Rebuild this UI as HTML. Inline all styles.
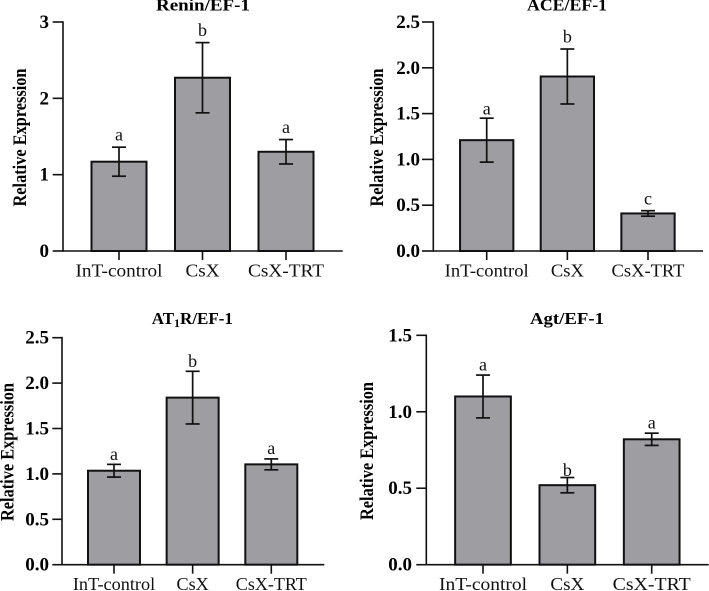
<!DOCTYPE html>
<html lang="en">
<head>
<meta charset="utf-8">
<title>Relative expression bar charts</title>
<style>
html,body{margin:0;padding:0;background:#fff;}
svg{display:block;font-family:"Liberation Serif",serif;filter:blur(0.3px);}
.title,.ytitle,.tick{font-weight:700;fill:#000;}
.title{font-size:17px;}
.ytitle{font-size:19px;}
.tick{font-size:19px;}
.xlab{font-size:17.5px;fill:#111;}
.sig{font-size:18px;fill:#111;}
</style>
</head>
<body>
<svg id="figure" xmlns="http://www.w3.org/2000/svg" width="709" height="591" viewBox="0 0 709 591">
  <text class="title" x="203" y="10.7" text-anchor="middle" textLength="94" lengthAdjust="spacingAndGlyphs">Renin/EF-1</text>
  <text class="title" x="567" y="10.7" text-anchor="middle" textLength="80" lengthAdjust="spacingAndGlyphs">ACE/EF-1</text>
  <text class="title" x="151.7" y="324">AT<tspan font-size="12" dy="3">1</tspan><tspan dy="-3">R/EF-1</tspan></text>
  <text class="title" x="567" y="324" text-anchor="middle" textLength="74" lengthAdjust="spacingAndGlyphs">Agt/EF-1</text>

  <text class="ytitle" transform="translate(26 137.5) rotate(-90)" text-anchor="middle" textLength="138" lengthAdjust="spacingAndGlyphs">Relative Expression</text>
  <text class="ytitle" transform="translate(383 137.5) rotate(-90)" text-anchor="middle" textLength="138" lengthAdjust="spacingAndGlyphs">Relative Expression</text>
  <text class="ytitle" transform="translate(13.3 452) rotate(-90)" text-anchor="middle" textLength="138" lengthAdjust="spacingAndGlyphs">Relative Expression</text>
  <text class="ytitle" transform="translate(373 451) rotate(-90)" text-anchor="middle" textLength="138" lengthAdjust="spacingAndGlyphs">Relative Expression</text>
</svg>
<script>
// Chart data
const categories = ["InT-control", "CsX", "CsX-TRT"];

const reninValues = [1.17, 2.27, 1.30];
const reninErrors = [0.19, 0.46, 0.16];
const reninLetters = ["a", "b", "a"];
const reninTicks = [0, 1, 2, 3];
const reninTickLabels = ["0", "1", "2", "3"];

const aceValues = [1.21, 1.905, 0.41];
const aceErrors = [0.24, 0.30, 0.03];
const aceLetters = ["a", "b", "c"];
const aceTicks = [0, 0.5, 1, 1.5, 2, 2.5];
const aceTickLabels = ["0.0", "0.5", "1.0", "1.5", "2.0", "2.5"];

const at1rValues = [1.035, 1.84, 1.105];
const at1rErrors = [0.07, 0.29, 0.06];
const at1rLetters = ["a", "b", "a"];
const at1rTicks = [0, 0.5, 1, 1.5, 2, 2.5];
const at1rTickLabels = ["0.0", "0.5", "1.0", "1.5", "2.0", "2.5"];

const agtValues = [1.10, 0.52, 0.82];
const agtErrors = [0.14, 0.05, 0.04];
const agtLetters = ["a", "b", "a"];
const agtTicks = [0, 0.5, 1, 1.5];
const agtTickLabels = ["0.0", "0.5", "1.0", "1.5"];

// Panel layout (pixels) is kept separate from the data
const panels = [
  {id:"renin", values:reninValues, errors:reninErrors, letters:reninLetters, ticks:reninTicks, tickLabels:reninTickLabels,
   axisX:63, xEnd:342.7, tickEnd:52.7, yTop:22, yZero:251, firstCenter:119, step:83.5, barWidth:55,
   labelRight:49, labelBase:276.7, labelWidths:[87,34,76], letterGaps:[6.5,6.5,6.5]},
  {id:"ace", values:aceValues, errors:aceErrors, letters:aceLetters, ticks:aceTicks, tickLabels:aceTickLabels,
   axisX:433.3, xEnd:703, tickEnd:422, yTop:22, yZero:251, firstCenter:486.7, step:80.65, barWidth:53.3,
   labelRight:420, labelBase:276.7, labelWidths:[84,33,73], letterGaps:[3.5,6.3,6.3]},
  {id:"at1r", values:at1rValues, errors:at1rErrors, letters:at1rLetters, ticks:at1rTicks, tickLabels:at1rTickLabels,
   axisX:62, xEnd:324.3, tickEnd:52.3, yTop:337.7, yZero:564.7, firstCenter:114, step:78.65, barWidth:52,
   labelRight:49, labelBase:590, labelWidths:[82.3,32.3,71], letterGaps:[4.3,4.3,4.7]},
  {id:"agt", values:agtValues, errors:agtErrors, letters:agtLetters, ticks:agtTicks, tickLabels:agtTickLabels,
   axisX:426.3, xEnd:708.7, tickEnd:416.3, yTop:335.3, yZero:564.7, firstCenter:483, step:84.35, barWidth:55.7,
   labelRight:412, labelBase:590, labelWidths:[88,34,78], letterGaps:[4.7,1.7,4.7]}
];

const svg = document.getElementById("figure");
const NS = "http://www.w3.org/2000/svg";

function make(tag, attrs, parent, text) {
  const el = document.createElementNS(NS, tag);
  for (const k in attrs) el.setAttribute(k, attrs[k]);
  if (text !== undefined) el.textContent = text;
  parent.appendChild(el);
  return el;
}

function line(x1, y1, x2, y2, width, parent) {
  return make("line", {x1:x1, y1:y1, x2:x2, y2:y2, stroke:"#111", "stroke-width":width}, parent);
}

panels.forEach(function (p) {
  const maxTick = Math.max.apply(null, p.ticks);
  const yScale = function (v) { return p.yZero - (v / maxTick) * (p.yZero - p.yTop); };
  const xScale = function (i) { return p.firstCenter + i * p.step; };

  const g = make("g", {}, svg);
  
  

  p.values.forEach(function (v, i) {
    const cx = xScale(i);
    const top = yScale(v);

    const bar = make("rect", {x:cx - p.barWidth / 2, y:top, width:p.barWidth, height:p.yZero - top,
      fill:"#9e9da2", stroke:"#111", "stroke-width":2}, g);
    
    

    const errTop = yScale(v + p.errors[i]);
    const errBottom = yScale(v - p.errors[i]);
    const err = make("g", {}, g);
    
    
    line(cx, errTop, cx, errBottom, 1.7, err);
    line(cx - 7, errTop, cx + 7, errTop, 1.7, err);
    line(cx - 7, errBottom, cx + 7, errBottom, 1.7, err);

    const sig = make("text", {class:"sig", x:cx, y:errTop - p.letterGaps[i], "text-anchor":"middle"}, g, p.letters[i]);
    
    

    const xTick = line(cx, p.yZero, cx, p.yZero + 9, 1.6, g);
    
    

    const xLabel = make("text", {class:"xlab", x:cx, y:p.labelBase, "text-anchor":"middle",
      textLength:p.labelWidths[i], lengthAdjust:"spacingAndGlyphs"}, g, categories[i]);
    
    
  });

  const yAxis = line(p.axisX, p.yTop - 0.8, p.axisX, p.yZero + 0.8, 1.6, g);
  
  

  const xAxis = line(p.axisX, p.yZero, p.xEnd, p.yZero, 1.6, g);
  
  

  p.ticks.forEach(function (t, i) {
    const y = yScale(t);
    const yTick = line(p.tickEnd, y, p.axisX, y, 1.6, g);
    
    

    const yLabel = make("text", {class:"tick", x:p.labelRight, y:y + 6, "text-anchor":"end"}, g, p.tickLabels[i]);
    
    
  });
});
</script>
</body>
</html>
